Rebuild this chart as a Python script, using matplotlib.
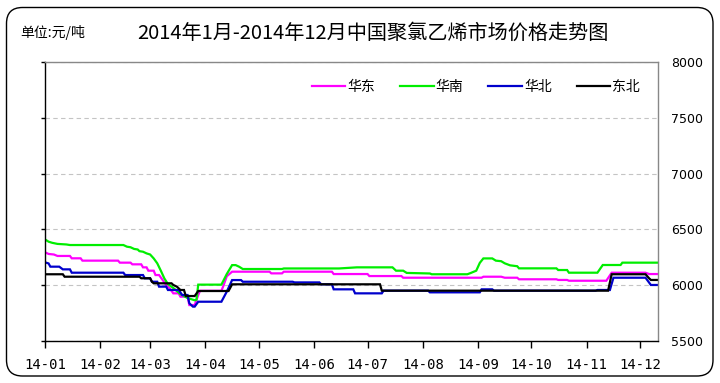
import matplotlib
matplotlib.use('Agg')
import matplotlib.pyplot as plt
from matplotlib.patches import FancyBboxPatch

plt.rcParams['font.family'] = ['Noto Sans CJK SC', 'DejaVu Sans']

# ---------------- data ----------------
month_labels = ['14-01', '14-02', '14-03', '14-04', '14-05', '14-06',
                '14-07', '14-08', '14-09', '14-10', '14-11', '14-12']
month_start_days = [0, 31, 59, 90, 120, 151, 181, 212, 243, 273, 304, 334]
y_ticks = [5500, 6000, 6500, 7000, 7500, 8000]

series_names = ['华东', '华南', '华北', '东北']

# 华东 (day of year, price)
east_days = [0, 2, 5, 7, 14, 15, 20, 21, 41, 42, 48, 49, 54, 55, 57, 58, 61, 62, 64, 66,
             68, 70, 72, 75, 76, 80, 81, 84, 86, 87, 99, 100, 102, 105, 126, 127, 133, 134,
             161, 162, 181, 182, 200, 201, 245, 246, 256, 258, 265, 266, 287, 288, 293, 294,
             315, 318, 337, 339, 344]
east_vals = [6295, 6280, 6275, 6262, 6262, 6241, 6241, 6220, 6220, 6202, 6202, 6187, 6187,
             6160, 6160, 6130, 6130, 6091, 6091, 6047, 6002, 5972, 5927, 5927, 5897, 5897,
             5822, 5822, 5912, 5950, 5950, 5990, 6080, 6121, 6121, 6106, 6106, 6121, 6121,
             6100, 6100, 6082, 6082, 6067, 6067, 6076, 6076, 6067, 6067, 6053, 6053, 6047,
             6047, 6040, 6040, 6112, 6112, 6100, 6100]

# 华南
south_days = [0, 2, 4, 7, 12, 14, 44, 46, 48, 50, 52, 53, 55, 57, 59, 61, 63, 65, 67, 69,
              72, 76, 80, 84, 85, 86, 99, 102, 105, 107, 109, 111, 133, 134, 165, 175, 195,
              197, 201, 203, 216, 217, 237, 239, 242, 244, 246, 251, 253, 256, 258, 261,
              265, 266, 287, 288, 293, 294, 310, 313, 323, 324, 344]
south_vals = [6410, 6390, 6380, 6370, 6365, 6360, 6360, 6345, 6340, 6325, 6320, 6305, 6300,
              6285, 6275, 6240, 6196, 6130, 6060, 6010, 5975, 5920, 5885, 5865, 5870, 6005,
              6005, 6100, 6180, 6180, 6165, 6145, 6145, 6150, 6150, 6160, 6160, 6130, 6130,
              6110, 6105, 6098, 6098, 6110, 6130, 6200, 6240, 6240, 6220, 6215, 6196, 6178,
              6170, 6151, 6151, 6136, 6136, 6112, 6112, 6181, 6181, 6202, 6202]

# 华北
north_days = [0, 2, 3, 8, 10, 14, 15, 44, 45, 55, 56, 59, 60, 63, 64, 68, 69, 75, 77, 80,
              81, 83, 84, 86, 99, 102, 105, 110, 111, 139, 140, 154, 155, 161, 162, 173, 174,
              189, 190, 215, 216, 244, 245, 251, 252, 309, 310, 317, 319, 337, 340, 344]
north_vals = [6205, 6195, 6166, 6166, 6142, 6142, 6112, 6112, 6091, 6091, 6062, 6062, 6031,
              6031, 5987, 5987, 5957, 5957, 5912, 5912, 5838, 5808, 5808, 5852, 5852, 5942,
              6046, 6046, 6031, 6031, 6025, 6025, 6008, 6008, 5963, 5963, 5927, 5927, 5951,
              5951, 5936, 5936, 5963, 5963, 5951, 5951, 5957, 5957, 6067, 6067, 6002, 6002]

# 东北
ne_days = [0, 10, 11, 53, 54, 59, 60, 61, 71, 72, 74, 76, 78, 79, 84, 86, 103, 105, 188,
           189, 316, 318, 337, 339, 340, 344]
ne_vals = [6098, 6098, 6076, 6076, 6062, 6062, 6031, 6017, 6017, 6002, 5987, 5957, 5957,
           5903, 5903, 5948, 5948, 6008, 6008, 5951, 5951, 6098, 6098, 6062, 6047, 6047]

colors = ['#ff00ff', '#00ee00', '#0000cc', '#000000']

# ---------------- figure ----------------
fig = plt.figure(figsize=(7.2, 3.83), dpi=100)

bg = fig.add_axes([0, 0, 1, 1], zorder=-5)
bg.set_xlim(0, 720)
bg.set_ylim(0, 383)
bg.axis('off')
bg.add_patch(FancyBboxPatch((6.5, 7), 706.5, 368.5,
                            boxstyle='round,pad=0,rounding_size=16',
                            fill=False, ec='black', lw=1.0))

ax = fig.add_axes([45 / 720, 42 / 383, 613 / 720, 279 / 383])
ax.patch.set_alpha(0)

data = [(east_days, east_vals), (south_days, south_vals),
        (north_days, north_vals), (ne_days, ne_vals)]
for (d, v), name, c in zip(data, series_names, colors):
    ax.plot(d, v, color=c, lw=1.6, label=name, solid_joinstyle='miter')

ax.set_xlim(0, 344)
ax.set_ylim(5500, 8000)
ax.set_xticks(month_start_days)
ax.set_xticklabels(month_labels, family='DejaVu Sans Mono', fontsize=10)
ax.set_yticks(y_ticks)
ax.set_yticklabels([str(t) for t in y_ticks], family='DejaVu Sans', fontsize=9)

ax.tick_params(axis='y', left=True, right=False, labelleft=False, labelright=True,
               length=3, width=1, direction='out', pad=6.5)
ax.tick_params(axis='x', length=5, width=1, direction='out', pad=7)

ax.yaxis.grid(True, linestyle=(0, (4, 3)), color='#c4c4c4', lw=0.8)
ax.set_axisbelow(True)

for s in ['left', 'bottom']:
    ax.spines[s].set_color('black')
    ax.spines[s].set_linewidth(1.0)
for s in ['top', 'right']:
    ax.spines[s].set_color('#888888')
    ax.spines[s].set_linewidth(1.0)

ax.legend(loc='center', bbox_to_anchor=(0.703, 0.91), ncol=4, frameon=False,
          fontsize=10, handlelength=2.4, handletextpad=0.15, columnspacing=1.8)

fig.text(373 / 720, 1 - 33 / 383, '2014年1月-2014年12月中国聚氯乙烯市场价格走势图',
         ha='center', va='center', fontsize=14.5)
fig.text(20 / 720, 1 - 33 / 383, '单位:元/吨', ha='left', va='center', fontsize=10)

fig.savefig('out.png', dpi=100)
